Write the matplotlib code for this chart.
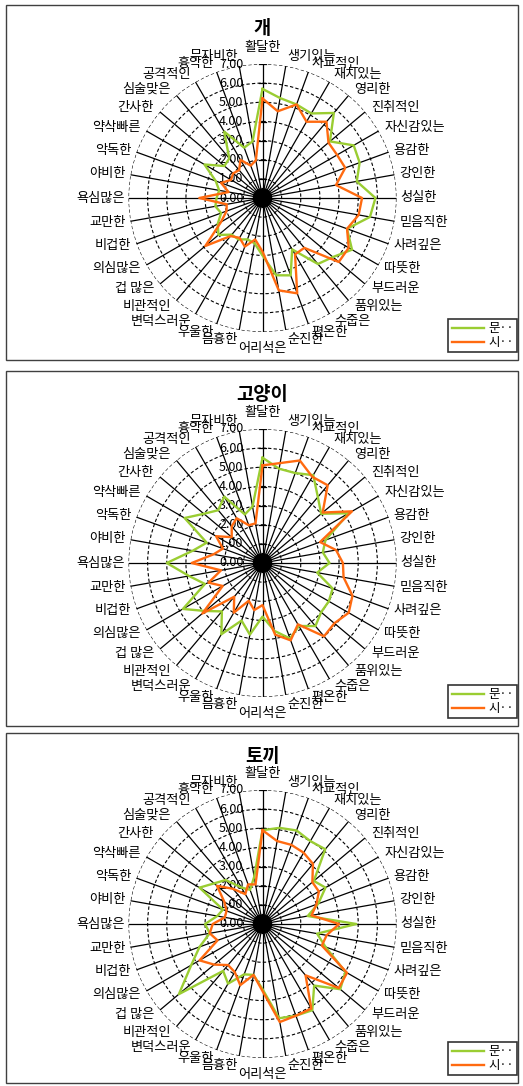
import numpy as np
import matplotlib
matplotlib.use("Agg")
import matplotlib.pyplot as plt
from matplotlib import patches

plt.rcParams['font.family'] = ['Noto Sans CJK KR', 'DejaVu Sans']

categories = ["활달한", "생기있는", "사교적인", "재치있는", "영리한", "진취적인",
              "자신감있는", "용감한", "강인한", "성실한", "믿음직한", "사려깊은",
              "따뜻한", "부드러운", "품위있는", "수줍은", "평온한", "순진한",
              "어리석은", "음흉한", "우울한", "변덕스러운", "비관적인", "겁 많은",
              "의심많은", "비겁한", "교만한", "욕심많은", "야비한", "악독한",
              "약삭빠른", "간사한", "심술맞은", "공격적인", "흉악한", "무자비한"]

titles = ["개", "고양이", "토끼"]
series_names = ["문··", "시··"]

dog_mun = [5.7, 5.3, 5.2, 5.1, 5.8, 4.6, 5.5, 5.4, 5.0, 5.9, 5.7, 4.7, 5.4, 4.8, 4.5, 3.1, 4.3, 4.1,
           3.0, 2.4, 2.3, 2.5, 2.5, 3.0, 2.7, 2.3, 2.5, 2.4, 2.3, 2.6, 3.5, 2.6, 2.7, 4.0, 2.8, 3.0]
dog_si = [5.2, 4.6, 5.2, 4.6, 5.2, 4.5, 4.5, 4.6, 3.9, 5.2, 5.1, 4.7, 5.2, 5.2, 3.4, 3.4, 5.3, 4.9,
          2.8, 2.2, 2.7, 2.4, 2.6, 3.9, 2.5, 2.0, 1.9, 3.3, 1.8, 2.3, 1.9, 2.0, 1.9, 2.3, 1.8, 2.0]

cat_mun = [5.5, 5.0, 5.0, 5.3, 4.5, 4.0, 5.2, 3.5, 3.2, 3.5, 2.9, 3.9, 4.0, 4.0, 4.3, 3.8, 4.2, 3.6,
           2.8, 3.8, 3.2, 4.3, 3.3, 3.9, 4.8, 3.2, 3.9, 5.0, 3.7, 3.1, 4.7, 4.0, 3.6, 4.0, 2.7, 3.0]
cat_si = [5.1, 5.3, 5.7, 5.2, 5.3, 4.1, 5.4, 3.2, 3.9, 4.2, 4.3, 5.0, 5.2, 4.9, 5.0, 3.7, 4.3, 3.8,
          2.2, 2.5, 2.1, 3.0, 2.3, 4.1, 2.4, 3.0, 2.2, 3.7, 2.6, 2.2, 2.8, 2.1, 2.5, 2.7, 2.1, 2.1]

rabbit_mun = [4.9, 5.1, 5.2, 5.0, 5.1, 3.5, 3.8, 3.1, 2.4, 4.9, 2.9, 3.5, 5.0, 5.3, 4.2, 5.2, 5.1, 5.0,
              3.4, 2.7, 2.8, 3.6, 3.2, 5.7, 4.3, 3.5, 2.8, 3.0, 2.4, 2.2, 3.8, 3.3, 3.0, 2.2, 1.9, 2.5]
rabbit_si = [4.9, 4.4, 4.4, 4.3, 4.1, 3.4, 3.4, 3.0, 2.6, 4.0, 3.4, 3.3, 5.1, 5.2, 3.5, 5.1, 5.1, 5.2,
             3.5, 2.7, 3.4, 2.9, 2.8, 3.3, 3.8, 2.5, 2.8, 2.6, 2.0, 2.0, 2.3, 3.1, 2.4, 1.8, 2.2, 2.1]

mun_data = [dog_mun, cat_mun, rabbit_mun]
si_data = [dog_si, cat_si, rabbit_si]

W, H = 523, 1086
fig = plt.figure(figsize=(W / 100, H / 100), dpi=100)

# panel frames (pixels): top, bottom
frames = [(5, 360), (371, 726), (733, 1083)]
centers = [198, 563, 924]
rad = 134

n = len(categories)
angles = np.arange(n) * 2 * np.pi / n

for k in range(3):
    top, bot = frames[k]
    fig.patches.append(patches.Rectangle((6 / W, 1 - bot / H), (518 - 6) / W, (bot - top) / H,
                                         transform=fig.transFigure, fill=False,
                                         edgecolor="#404040", linewidth=1.0))
    fig.text(262 / W, 1 - (top + 23) / H, titles[k], ha="center", va="center",
             fontsize=13.5, fontweight="bold")

    cy = centers[k]
    ax = fig.add_axes([(262.5 - rad) / W, 1 - (cy + rad) / H, 2 * rad / W, 2 * rad / H],
                      projection="polar")
    ax.set_theta_zero_location("N")
    ax.set_theta_direction(-1)
    ax.set_ylim(0, 7)
    ax.set_xticks(angles)
    ax.set_xticklabels([])
    ax.set_yticks(range(1, 8))
    ax.set_yticklabels([])
    ax.xaxis.grid(True, color="black", linewidth=0.9, linestyle="-")
    ax.yaxis.grid(True, color="black", linewidth=0.8, linestyle=(0, (3, 2)))
    ax.spines["polar"].set_visible(False)
    ax.patch.set_visible(False)

    # dense hub where the spokes meet
    for a in angles:
        ax.plot([a, a], [0, 0.45], color="black", linewidth=1.6, zorder=2)

    # small ticks on the value axis
    for r in range(1, 8):
        d = 3.5 / (r * rad / 7)
        ax.plot([-d, d], [r, r], color="black", linewidth=0.9, zorder=2)

    # radial value labels
    for r in range(0, 8):
        ax.annotate("%.2f" % r, (0, r), xytext=(-19, 0), textcoords="offset pixels",
                    ha="right", va="center", fontsize=9, zorder=4)

    # category labels
    for a, lab in zip(angles, categories):
        s, c = np.sin(a), np.cos(a)
        ha = "left" if s > 0.05 else ("right" if s < -0.05 else "center")
        if c > 0.99:
            va = "bottom"
        elif c < -0.99:
            va = "top"
        else:
            va = "center"
        rl = 7.2 + 0.3 * abs(c)
        ax.text(a, rl, lab, ha=ha, va=va, fontsize=9.5)

    closed = np.append(angles, angles[0])
    ax.plot(closed, mun_data[k] + mun_data[k][:1], color="#9ACD32", linewidth=1.7,
            label=series_names[0], zorder=5)
    ax.plot(closed, si_data[k] + si_data[k][:1], color="#FF6A10", linewidth=1.7,
            label=series_names[1], zorder=5)

    leg = ax.legend(loc="lower right", bbox_to_anchor=(517 / W, 1 - (bot - 8) / H),
                    bbox_transform=fig.transFigure, fontsize=9, frameon=True,
                    fancybox=False, handlelength=2.6, borderpad=0.25, labelspacing=0.05,
                    handletextpad=0.35, borderaxespad=0)
    leg.get_frame().set_edgecolor("black")
    leg.get_frame().set_linewidth(1.2)

fig.savefig("out.png", dpi=100)
